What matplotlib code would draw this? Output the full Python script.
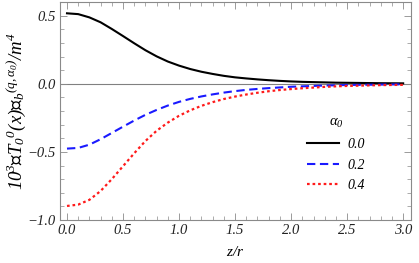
import numpy as np
import matplotlib
matplotlib.use("Agg")
import matplotlib.pyplot as plt
from matplotlib.ticker import MultipleLocator

# --- data ---
z = [0.0, 0.1, 0.2, 0.3, 0.4, 0.5, 0.6, 0.7, 0.8, 0.9, 1.0,
     1.1, 1.2, 1.3, 1.4, 1.5, 1.6, 1.7, 1.8, 1.9, 2.0,
     2.1, 2.2, 2.3, 2.4, 2.5, 2.6, 2.7, 2.8, 2.9, 3.0]

t_a00 = [0.517, 0.511, 0.487, 0.451, 0.402, 0.35, 0.297, 0.246, 0.201, 0.163, 0.133,
         0.108, 0.088, 0.072, 0.058, 0.047, 0.039, 0.032, 0.026, 0.021, 0.017,
         0.014, 0.012, 0.010, 0.008, 0.007, 0.006, 0.005, 0.004, 0.0035, 0.003]

t_a02 = [-0.476, -0.471, -0.447, -0.407, -0.361, -0.315, -0.27, -0.228, -0.192, -0.16, -0.133,
         -0.111, -0.093, -0.078, -0.065, -0.054, -0.045, -0.038, -0.032, -0.027, -0.022,
         -0.019, -0.016, -0.013, -0.011, -0.009, -0.008, -0.007, -0.006, -0.005, -0.004]

t_a04 = [-0.897, -0.887, -0.852, -0.787, -0.70, -0.605, -0.51, -0.42, -0.345, -0.285, -0.235,
         -0.195, -0.162, -0.135, -0.112, -0.094, -0.079, -0.066, -0.055, -0.046, -0.039,
         -0.033, -0.028, -0.023, -0.019, -0.016, -0.014, -0.012, -0.010, -0.009, -0.008]

alpha_labels = ["0.0", "0.2", "0.4"]

plt.rcParams["font.family"] = ["Liberation Serif", "DejaVu Serif"]
plt.rcParams["font.style"] = "italic"
plt.rcParams["mathtext.fontset"] = "custom"
plt.rcParams["mathtext.rm"] = "Liberation Serif:italic"
plt.rcParams["mathtext.it"] = "Liberation Serif:italic"
plt.rcParams["mathtext.bf"] = "Liberation Serif:bold"
plt.rcParams["mathtext.fallback"] = "stix"

fig = plt.figure(figsize=(4.19, 2.63), dpi=100)
ax = fig.add_axes([60 / 419, 43 / 263, 351 / 419, 218 / 263])

# zero line
ax.axhline(0, color="#808080", linewidth=0.8, zorder=1)

ax.plot(z, t_a00, color="black", linewidth=1.5, label=alpha_labels[0])
ax.plot(z, t_a02, color="#1a1aff", linewidth=1.5, dashes=(4, 2.2), label=alpha_labels[1])
ax.plot(z, t_a04, color="#ff1a1a", linewidth=1.6, dashes=(1.2, 1.3), label=alpha_labels[2])

ax.set_xlim(-0.0625, 3.07)
ax.set_ylim(-1.0, 0.6)

ax.xaxis.set_minor_locator(MultipleLocator(0.1))
ax.yaxis.set_minor_locator(MultipleLocator(0.1))
ax.set_xticks([0, 0.5, 1.0, 1.5, 2.0, 2.5, 3.0])
ax.set_xticklabels(["0.0", "0.5", "1.0", "1.5", "2.0", "2.5", "3.0"])
ax.set_yticks([-1.0, -0.5, 0.0, 0.5])
ax.set_yticklabels(["\u22121.0", "\u22120.5", "0.0", "0.5"])

ax.tick_params(which="both", direction="in", top=True, right=True,
               color="#8a8a8a", labelsize=10.5, labelcolor="#222222")
ax.tick_params(which="major", length=5, width=0.6, pad=3)
ax.tick_params(which="minor", length=2.8, width=0.5)
for sp in ax.spines.values():
    sp.set_color("#8a8a8a")
    sp.set_linewidth(0.8)

ax.set_xlabel(r"$z/r$", fontsize=11, labelpad=6)
ax.set_ylabel("$10^3\u27e8T_0{}^0(x)\u27e9_b{}^{(q,\\alpha_0)}/m^4$", fontsize=13.5, labelpad=0)

leg = ax.legend(title=r"$\alpha_0$", loc="lower right", bbox_to_anchor=(0.905, 0.07),
                frameon=False, fontsize=10, title_fontsize=10.5,
                handlelength=2.3, handletextpad=0.6, labelspacing=0.55)

fig.savefig("out.png", dpi=100)
